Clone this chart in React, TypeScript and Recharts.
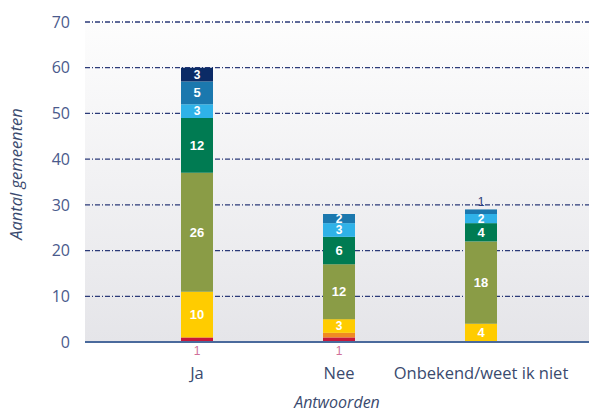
import React from 'react';
import { BarChart, Bar, XAxis, YAxis, CartesianGrid, LabelList, Label } from 'recharts';

const categories = ['Ja', 'Nee', 'Onbekend/weet ik niet'];
const rood = [1, 1, 0];
const oranje = [0, 1, 0];
const geel = [10, 3, 4];
const olijf = [26, 12, 18];
const groen = [12, 6, 4];
const lichtblauw = [3, 3, 2];
const blauw = [5, 2, 1];
const donkerblauw = [3, 0, 0];
const yTicks = [0, 10, 20, 30, 40, 50, 60, 70];

const data = categories.map((name, i) => ({
  name,
  rood: rood[i],
  oranje: oranje[i],
  geel: geel[i],
  olijf: olijf[i],
  groen: groen[i],
  lichtblauw: lichtblauw[i],
  blauw: blauw[i],
  donkerblauw: donkerblauw[i],
}));

const series = [
  { key: 'rood', color: '#c8173a', mode: 'below' },
  { key: 'oranje', color: '#f08a22', mode: 'none' },
  { key: 'geel', color: '#ffcc00', mode: 'inside' },
  { key: 'olijf', color: '#8a9c46', mode: 'inside' },
  { key: 'groen', color: '#007b52', mode: 'inside' },
  { key: 'lichtblauw', color: '#2fb2e8', mode: 'inside' },
  { key: 'blauw', color: '#1b78ae', mode: 'insideOrAbove' },
  { key: 'donkerblauw', color: '#0b2b66', mode: 'inside' },
];

const font = '"Open Sans", "Noto Sans", sans-serif';
const labelFont = '"Liberation Sans", Arial, sans-serif';

const makeLabel = (mode: string) => (props: any) => {
  const { x, y, width, height, value } = props;
  if (!value || mode === 'none') return null;
  const cx = x + width / 2;
  if (mode === 'below') {
    return (
      <text x={cx} y={y + height + 13} textAnchor="middle" fill="#d0709a" fontSize={12} fontFamily={labelFont}>
        {value}
      </text>
    );
  }
  if (mode === 'insideOrAbove' && height < 8) {
    return (
      <text x={cx} y={y - 3} textAnchor="middle" fill="#2b3a78" fontSize={12} fontFamily={labelFont}>
        {value}
      </text>
    );
  }
  const small = height < 15;
  return (
    <text x={cx} y={y + height / 2 + (small ? 4 : 4.5)} textAnchor="middle" fill="#ffffff" fontSize={small ? 12 : 13} fontWeight="bold" fontFamily={labelFont}>
      {value}
    </text>
  );
};

export default function App() {
  return (
    <div style={{ position: 'absolute', left: 0, top: 0, background: '#fff' }}>
      <BarChart width={589} height={412} data={data} margin={{ top: 22, right: 0, bottom: 0, left: 0 }}>
        <defs>
          <linearGradient id="bg" x1="0" y1="0" x2="0" y2="1">
            <stop offset="0%" stopColor="#fdfdfd" />
            <stop offset="100%" stopColor="#e5e5e9" />
          </linearGradient>
        </defs>
        <CartesianGrid
          vertical={false}
          fill="url(#bg)"
          stroke="#2b3a78"
          strokeDasharray="5 2 1 2"
          strokeWidth={1.3}
          horizontalValues={[10, 20, 30, 40, 50, 60, 70]}
        />
        <XAxis
          dataKey="name"
          height={70}
          padding={{ left: 41, right: 37 }}
          tickLine={false}
          tickSize={0}
          tickMargin={25}
          axisLine={{ stroke: '#4a6a9c', strokeWidth: 2 }}
          tick={{ fill: '#3a4a6e', fontSize: 16.5, fontFamily: font }}
        >
          <Label
            content={(p: any) => {
              const vb = p.viewBox;
              return (
                <text x={vb.x + vb.width / 2} y={408} textAnchor="middle" fill="#3a4a6e" fontSize={16} fontStyle="italic" fontFamily={font}>
                  Antwoorden
                </text>
              );
            }}
          />
        </XAxis>
        <YAxis
          width={85}
          domain={[0, 70]}
          ticks={yTicks}
          interval={0}
          tickLine={false}
          tickSize={0}
          tickMargin={15}
          axisLine={false}
          tick={{ fill: '#4a5a8c', fontSize: 16, fontFamily: font }}
        >
          <Label
            content={(p: any) => {
              const vb = p.viewBox;
              const cy = vb.y + vb.height / 2 - 8;
              return (
                <text x={22} y={cy} transform={`rotate(-90, 22, ${cy})`} textAnchor="middle" fill="#3a4a6e" fontSize={16.5} fontStyle="italic" fontFamily={font}>
                  Aantal gemeenten
                </text>
              );
            }}
          />
        </YAxis>
        {series.map((s) => (
          <Bar key={s.key} dataKey={s.key} stackId="a" fill={s.color} barSize={32} isAnimationActive={false}>
            <LabelList dataKey={s.key} content={makeLabel(s.mode)} />
          </Bar>
        ))}
      </BarChart>
    </div>
  );
}
